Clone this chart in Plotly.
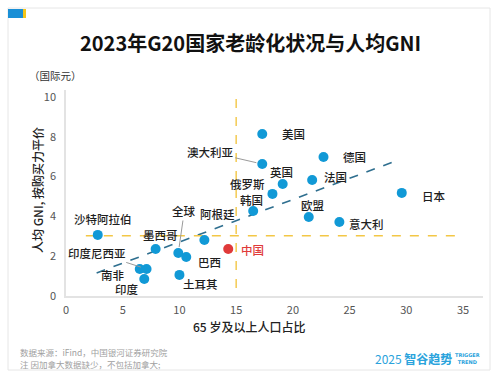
import plotly.graph_objects as go

# ---- data ----
countries = ["美国", "澳大利亚", "德国", "英国", "法国", "俄罗斯", "韩国", "欧盟", "意大利", "日本",
             "沙特阿拉伯", "墨西哥", "全球", "阿根廷", "巴西", "中国", "印度尼西亚", "南非", "印度", "土耳其"]
aging = [17.3, 17.3, 22.7, 19.1, 21.7, 18.2, 16.5, 21.4, 24.1, 29.6,
         2.8, 7.9, 9.9, 12.2, 10.6, 14.3, 7.1, 6.5, 6.9, 10.0]
gni = [8.14, 6.63, 6.98, 5.63, 5.83, 5.13, 4.27, 3.97, 3.72, 5.18,
       3.07, 2.36, 2.16, 2.81, 1.96, 2.36, 1.36, 1.36, 0.85, 1.06]

trend_x = [2.7, 29.3]
trend_y = [1.16, 6.83]
ref_age = 15.0
ref_gni = 3.03
ref_age_span = [0.4, 10.45]
ref_gni_span = [1.75, 34.6]

x_ticks = [0, 5, 10, 15, 20, 25, 30, 35]
y_ticks = [0, 2, 4, 6, 8, 10]

# ---- label placement (pixel offsets) ----
label_style = {
    "美国": dict(xanchor="left", xshift=18, yshift=0),
    "德国": dict(xanchor="left", xshift=17, yshift=0),
    "英国": dict(xanchor="center", xshift=-1, yshift=12),
    "法国": dict(xanchor="left", xshift=10, yshift=3),
    "俄罗斯": dict(xanchor="right", xshift=-5, yshift=10),
    "韩国": dict(xanchor="center", xshift=-2, yshift=11),
    "欧盟": dict(xanchor="center", xshift=4, yshift=12),
    "意大利": dict(xanchor="left", xshift=8, yshift=-2),
    "日本": dict(xanchor="left", xshift=18, yshift=-3),
    "沙特阿拉伯": dict(xanchor="center", xshift=5, yshift=16),
    "墨西哥": dict(xanchor="center", xshift=5, yshift=14),
    "阿根廷": dict(xanchor="center", xshift=13, yshift=26),
    "巴西": dict(xanchor="left", xshift=10, yshift=-5),
    "中国": dict(xanchor="left", xshift=11, yshift=-1),
    "南非": dict(xanchor="right", xshift=-13, yshift=-6),
    "印度": dict(xanchor="right", xshift=-3, yshift=-10),
    "土耳其": dict(xanchor="left", xshift=2, yshift=-9),
}
arrow_labels = {
    "澳大利亚": (-52, -12),
    "全球": (6, -42),
    "印度尼西亚": (-50, -16),
}

FONT = "Noto Sans CJK SC"
L, R, T, B = 66, 483, 90, 296
W, H = 500, 379


def px(xp):
    return (xp - L) / (R - L)


def py(yp):
    return (B - yp) / (B - T)


colors = ["#e03a3a" if c == "中国" else "#1199d6" for c in countries]

fig = go.Figure()
fig.add_trace(go.Scatter(x=trend_x, y=trend_y, mode="lines",
                         line=dict(color="#2f6f8f", width=1.6, dash="dash"),
                         hoverinfo="skip", showlegend=False))
fig.add_trace(go.Scatter(x=[ref_age, ref_age], y=ref_age_span, mode="lines",
                         line=dict(color="#f3c746", width=1.4, dash="dash"),
                         hoverinfo="skip", showlegend=False))
fig.add_trace(go.Scatter(x=ref_gni_span, y=[ref_gni, ref_gni], mode="lines",
                         line=dict(color="#f3c746", width=1.4, dash="dash"),
                         hoverinfo="skip", showlegend=False))
fig.add_trace(go.Scatter(x=aging, y=gni, mode="markers", text=countries,
                         marker=dict(size=10, color=colors),
                         showlegend=False))

annotations = []
for c, xv, yv in zip(countries, aging, gni):
    color = "#e03a3a" if c == "中国" else "#1e1e1e"
    lf = dict(family=FONT, size=11.5, color=color, weight=500)
    if c in arrow_labels:
        ax, ay = arrow_labels[c]
        annotations.append(dict(x=xv, y=yv, xref="x", yref="y", text=c, showarrow=True,
                                ax=ax, ay=ay, arrowhead=0, arrowwidth=1, arrowcolor="#9a9a9a",
                                standoff=6, font=lf))
    else:
        s = label_style[c]
        annotations.append(dict(x=xv, y=yv, xref="x", yref="y", text=c, showarrow=False,
                                xanchor=s["xanchor"], yanchor="middle",
                                xshift=s["xshift"], yshift=s["yshift"], font=lf))

# titles and text
annotations += [
    dict(x=px(250), y=py(42), xref="paper", yref="paper", showarrow=False,
         text="<b>2023年G20国家老龄化状况与人均GNI</b>",
         font=dict(family=FONT, size=20, color="#111111"), xanchor="center", yanchor="middle"),
    dict(x=px(35), y=py(75), xref="paper", yref="paper", showarrow=False,
         text="（国际元）", font=dict(family=FONT, size=10.5, color="#333333"),
         xanchor="left", yanchor="middle", xshift=-8),
    dict(x=px(37), y=py(190), xref="paper", yref="paper", showarrow=False,
         text="人均 GNI, 按购买力平价", textangle=-90,
         font=dict(family=FONT, size=12, color="#222222", weight=500),
         xanchor="center", yanchor="middle"),
    dict(x=px(249), y=py(326), xref="paper", yref="paper", showarrow=False,
         text="65 岁及以上人口占比",
         font=dict(family=FONT, size=12, color="#222222", weight=500),
         xanchor="center", yanchor="middle"),
    dict(x=px(18), y=py(352), xref="paper", yref="paper", showarrow=False,
         text="数据来源：iFind，中国银河证券研究院",
         font=dict(family=FONT, size=8.5, color="#a0a0a0"), xanchor="left", yanchor="middle"),
    dict(x=px(18), y=py(364), xref="paper", yref="paper", showarrow=False,
         text="注 因加拿大数据缺少，不包括加拿大;",
         font=dict(family=FONT, size=8.5, color="#a0a0a0"), xanchor="left", yanchor="middle"),
    dict(x=px(373), y=py(358), xref="paper", yref="paper", showarrow=False,
         text="2025 <b>智谷趋势</b>",
         font=dict(family=FONT, size=12, color="#2aa3dc"), xanchor="left", yanchor="middle"),
    dict(x=px(453), y=py(358), xref="paper", yref="paper", showarrow=False,
         text="<b>TRIGGER<br>TREND</b>",
         font=dict(family="DejaVu Sans", size=5, color="#2aa3dc"), xanchor="left", yanchor="middle"),
]

shapes = [
    dict(type="rect", xref="paper", yref="paper", x0=px(8), x1=px(490), y0=py(8), y1=py(370),
         line=dict(color="#e6e6e6", width=1), fillcolor="rgba(0,0,0,0)", layer="below"),
    dict(type="rect", xref="paper", yref="paper", x0=px(8), x1=px(23), y0=py(9), y1=py(18),
         line=dict(width=0), fillcolor="#1a8fd6"),
    dict(type="rect", xref="paper", yref="paper", x0=px(23), x1=px(26), y0=py(9), y1=py(18),
         line=dict(width=0), fillcolor="#f5c518"),
    dict(type="line", xref="paper", yref="paper", x0=px(450), x1=px(450), y0=py(352), y1=py(364),
         line=dict(color="#2aa3dc", width=0.8)),
]

fig.update_layout(
    width=W, height=H,
    margin=dict(l=L, r=W - R, t=T, b=H - B),
    paper_bgcolor="white", plot_bgcolor="white",
    font=dict(family=FONT),
    annotations=annotations, shapes=shapes,
    xaxis=dict(range=[0, 36.76], tickvals=x_ticks, showgrid=False, zeroline=False,
               showline=True, linecolor="#e3e3e3", linewidth=1.5, ticks="",
               tickfont=dict(family=FONT, size=11, color="#555555"), ticklabelstandoff=3),
    yaxis=dict(range=[0, 10.35], tickvals=y_ticks, showgrid=False, zeroline=False,
               showline=True, linecolor="#e3e3e3", linewidth=1.5, ticks="",
               tickfont=dict(family=FONT, size=11, color="#555555"), ticklabelstandoff=6),
)

fig.write_html("out.html", config={"displayModeBar": False},
               post_script="document.body.style.margin='0';document.body.style.padding='0';")
